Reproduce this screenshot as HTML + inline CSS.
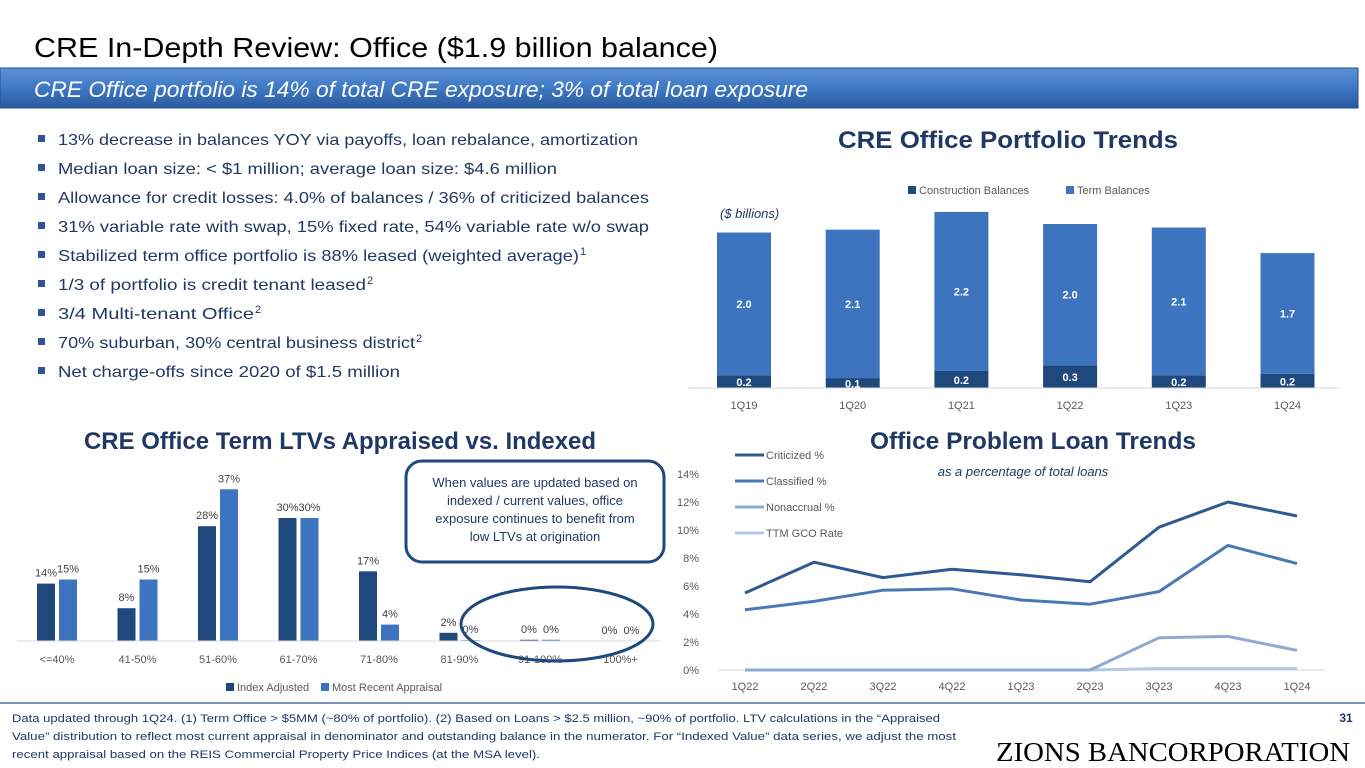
<!DOCTYPE html>
<html><head><meta charset="utf-8"><style>
html,body{margin:0;padding:0;background:#fff;}
svg{display:block;font-family:"Liberation Sans",sans-serif;}
</style></head><body>
<svg id="s" width="1365" height="768" viewBox="0 0 1365 768" xmlns="http://www.w3.org/2000/svg">
<defs>
<linearGradient id="bg" x1="0" y1="0" x2="0" y2="1"><stop offset="0" stop-color="#5b93d8"/><stop offset="0.5" stop-color="#3f78c4"/><stop offset="1" stop-color="#2a5aa0"/></linearGradient>
</defs>
<text x="34" y="57" font-size="28" fill="#000" textLength="684" lengthAdjust="spacingAndGlyphs">CRE In-Depth Review: Office ($1.9 billion balance)</text>
<rect x="0" y="68" width="1358" height="40" fill="url(#bg)" stroke="#2a4f86"/>
<text x="34" y="97" font-size="22" font-style="italic" fill="#fff" textLength="774" lengthAdjust="spacingAndGlyphs">CRE Office portfolio is 14% of total CRE exposure; 3% of total loan exposure</text>
<g id="bullets" fill="#203864" font-size="16"></g>
<text x="1008" y="148" font-size="24" font-weight="bold" fill="#1f3864" text-anchor="middle" textLength="340" lengthAdjust="spacingAndGlyphs">CRE Office Portfolio Trends</text>
<text x="340" y="449" font-size="24" font-weight="bold" fill="#1f3864" text-anchor="middle" textLength="512" lengthAdjust="spacingAndGlyphs">CRE Office Term LTVs Appraised vs. Indexed</text>
<text x="1033" y="449" font-size="24" font-weight="bold" fill="#1f3864" text-anchor="middle" textLength="326" lengthAdjust="spacingAndGlyphs">Office Problem Loan Trends</text>
<text x="1023" y="476" font-size="13" font-style="italic" fill="#1f3864" text-anchor="middle">as a percentage of total loans</text>
<g id="c1"></g>
<g id="c2"></g>
<g id="c3"></g>
<rect x="406" y="461" width="258" height="101" rx="16" fill="#fff" stroke="#1f497d" stroke-width="3"/>
<g font-size="13" fill="#1f3864" text-anchor="middle">
<text x="535" y="487">When values are updated based on</text>
<text x="535" y="505">indexed / current values, office</text>
<text x="535" y="523">exposure continues to benefit from</text>
<text x="535" y="541">low LTVs at origination</text>
</g>
<ellipse cx="557" cy="624" rx="96" ry="37" fill="none" stroke="#1f497d" stroke-width="3"/>
<line x1="0" y1="703" x2="1365" y2="703" stroke="#4a6fa5" stroke-width="1.5"/>
<g font-size="11" fill="#1f3864">
<text x="12" y="722" textLength="928" lengthAdjust="spacingAndGlyphs">Data updated through 1Q24. (1) Term Office &gt; $5MM (~80% of portfolio). (2) Based on Loans &gt; $2.5 million, ~90% of portfolio. LTV calculations in the “Appraised</text>
<text x="12" y="740" textLength="944" lengthAdjust="spacingAndGlyphs">Value” distribution to reflect most current appraisal in denominator and outstanding balance in the numerator. For “Indexed Value” data series, we adjust the most</text>
<text x="12" y="758" textLength="528" lengthAdjust="spacingAndGlyphs">recent appraisal based on the REIS Commercial Property Price Indices (at the MSA level).</text>
</g>
<text x="1346" y="722" font-size="12" font-weight="bold" fill="#1f3864" text-anchor="middle">31</text>
<text x="996" y="761" font-size="27" fill="#000" font-family="Liberation Serif,serif" textLength="354" lengthAdjust="spacingAndGlyphs">ZIONS BANCORPORATION</text>
</svg>
<script>
const NS='http://www.w3.org/2000/svg';
function mk(p,t,a,txt){const e=document.createElementNS(NS,t);for(const k in a)e.setAttribute(k,a[k]);if(txt!==undefined)e.textContent=txt;p.appendChild(e);return e;}
// bullets
const bulletTexts=["13% decrease in balances YOY via payoffs, loan rebalance, amortization","Median loan size: < $1 million; average loan size: $4.6 million","Allowance for credit losses: 4.0% of balances / 36% of criticized balances","31% variable rate with swap, 15% fixed rate, 54% variable rate w/o swap","Stabilized term office portfolio is 88% leased (weighted average)","1/3 of portfolio is credit tenant leased","3/4 Multi-tenant Office","70% suburban, 30% central business district","Net charge-offs since 2020 of $1.5 million"];
const bulletSup=["","","","","1","2","2","2",""];
const bulletW=[580,499,591,591,521,308,196,357,342];
const bg=document.getElementById('bullets');
bulletTexts.forEach((t,i)=>{const y=145+i*29;
 const r=mk(bg,'rect',{x:38,y:y-10,width:7,height:7,fill:'#2f5597'});
 
 
 const a={x:58,y:y};if(bulletW[i]){a.textLength=bulletW[i];a.lengthAdjust='spacingAndGlyphs';}
 const tx=mk(bg,'text',a,t);
 
 
 if(bulletSup[i]){mk(bg,'text',{x:58+bulletW[i]+1,y:y-6,'font-size':11},bulletSup[i]);}
});
// Chart 1 data
const quarters1=["1Q19","1Q20","1Q21","1Q22","1Q23","1Q24"];
const construction=[0.18,0.14,0.24,0.32,0.18,0.2];
const term=[2.01,2.09,2.24,1.99,2.08,1.70];
(function(){const g=document.getElementById('c1');const base=388,sc=71,x0=744,dx=108.7,bw=54;
 const X=i=>x0+i*dx, H=v=>v*sc;
 quarters1.forEach((q,i)=>{const hc=H(construction[i]),ht=H(term[i]);
  const r1=mk(g,'rect',{x:X(i)-bw/2,y:base-hc,width:bw,height:hc,fill:'#1f497d'});
  
  
  const r2=mk(g,'rect',{x:X(i)-bw/2,y:base-hc-ht,width:bw,height:ht,fill:'#3c74bf'});
  
  
  mk(g,'text',{x:X(i),y:base-hc/2+4.5,'font-size':11,'font-weight':'bold',fill:'#fff','text-anchor':'middle'},construction[i].toFixed(1));
  mk(g,'text',{x:X(i),y:base-hc-ht/2+4,'font-size':11,'font-weight':'bold',fill:'#fff','text-anchor':'middle'},term[i].toFixed(1));
  const xl=mk(g,'text',{x:X(i),y:409,'font-size':11,fill:'#595959','text-anchor':'middle'},q);
  
  
 });
 mk(g,'line',{x1:688,y1:base,x2:1340,y2:base,stroke:'#d9d9d9'});
 const l1=mk(g,'rect',{x:908,y:186,width:8,height:8,fill:'#1f497d'});
 
 
 mk(g,'text',{x:919,y:194,'font-size':11,fill:'#595959'},'Construction Balances');
 const l2=mk(g,'rect',{x:1066,y:186,width:8,height:8,fill:'#3c74bf'});
 
 
 mk(g,'text',{x:1077,y:194,'font-size':11,fill:'#595959'},'Term Balances');
 mk(g,'text',{x:720,y:218,'font-size':13,'font-style':'italic',fill:'#1f3864'},'($ billions)');
})();
// Chart 2 data
const ltvCats=["<=40%","41-50%","51-60%","61-70%","71-80%","81-90%","91-100%","100%+"];
const indexAdj=[14,8,28,30,17,2,0.3,0];
const recentApp=[15,15,37,30,4,0.2,0.3,0];
(function(){const g=document.getElementById('c2');const base=641,sc=4.1,x0=57,dx=80.5,bw=18;
 const X=i=>x0+i*dx,H=v=>v*sc;
 ltvCats.forEach((c,i)=>{
  const a=H(indexAdj[i]),b=H(recentApp[i]);
  const r1=mk(g,'rect',{x:X(i)-bw-2,y:base-a,width:bw,height:a,fill:'#1f497d'});
  
  
  const r2=mk(g,'rect',{x:X(i)+2,y:base-b,width:bw,height:b,fill:'#3c74bf'});
  
  
  mk(g,'text',{x:X(i)-bw/2-2,y:base-a-7,'font-size':11,fill:'#404040','text-anchor':'middle'},Math.round(indexAdj[i])+'%');
  mk(g,'text',{x:X(i)+bw/2+2,y:base-b-7,'font-size':11,fill:'#404040','text-anchor':'middle'},Math.round(recentApp[i])+'%');
  const xl=mk(g,'text',{x:X(i),y:663,'font-size':11,fill:'#595959','text-anchor':'middle'},c);
  
  
 });
 mk(g,'line',{x1:17,y1:base,x2:660,y2:base,stroke:'#d9d9d9'});
 const l1=mk(g,'rect',{x:226,y:683,width:8,height:8,fill:'#1f497d'});
 
 
 mk(g,'text',{x:237,y:691,'font-size':11,fill:'#595959'},'Index Adjusted');
 const l2=mk(g,'rect',{x:321,y:683,width:8,height:8,fill:'#3c74bf'});
 
 
 mk(g,'text',{x:332,y:691,'font-size':11,fill:'#595959'},'Most Recent Appraisal');
})();
// Chart 3 data
const quarters3=["1Q22","2Q22","3Q22","4Q22","1Q23","2Q23","3Q23","4Q23","1Q24"];
const criticized=[5.5,7.7,6.6,7.2,6.8,6.3,10.2,12.0,11.0];
const classified=[4.3,4.9,5.7,5.8,5.0,4.7,5.6,8.9,7.6];
const nonaccrual=[0,0,0,0,0,0,2.3,2.4,1.4];
const gcoRate=[0,0,0,0,0,0,0.1,0.1,0.1];
const yTicks=[0,2,4,6,8,10,12,14];
(function(){const g=document.getElementById('c3');const base=670,sc=14,x0=745,dx=69;
 const X=i=>x0+i*dx,Y=v=>base-v*sc;
 yTicks.forEach(t=>{const tl=mk(g,'text',{x:699,y:Y(t)+4,'font-size':11,fill:'#595959','text-anchor':'end'},t+'%');
  
  });
 mk(g,'line',{x1:718,y1:base,x2:1325,y2:base,stroke:'#d9d9d9'});
 quarters3.forEach((q,i)=>{const xl=mk(g,'text',{x:X(i),y:690,'font-size':11,fill:'#595959','text-anchor':'middle'},q);
  
  });
 const series=[[gcoRate,'#b4c7e7','gco-line'],[nonaccrual,'#8eaad3','nonaccrual-line'],[classified,'#4a78b5','classified-line'],[criticized,'#2f5a8f','criticized-line']];
 series.forEach(([d,c,n])=>{const p=mk(g,'polyline',{points:d.map((v,i)=>X(i)+','+Y(v)).join(' '),fill:'none',stroke:c,'stroke-width':3,'stroke-linejoin':'round'});
  
  });
 [['#2f5a8f','Criticized %'],['#4a78b5','Classified %'],['#8eaad3','Nonaccrual %'],['#b4c7e7','TTM GCO Rate']].forEach(([c,l],k)=>{
  const y=455+k*26;
  const ln=mk(g,'line',{x1:735,y1:y,x2:764,y2:y,stroke:c,'stroke-width':3});
  
  
  mk(g,'text',{x:766,y:y+4,'font-size':11,fill:'#595959'},l);
 });
})();
</script>
</body></html>
